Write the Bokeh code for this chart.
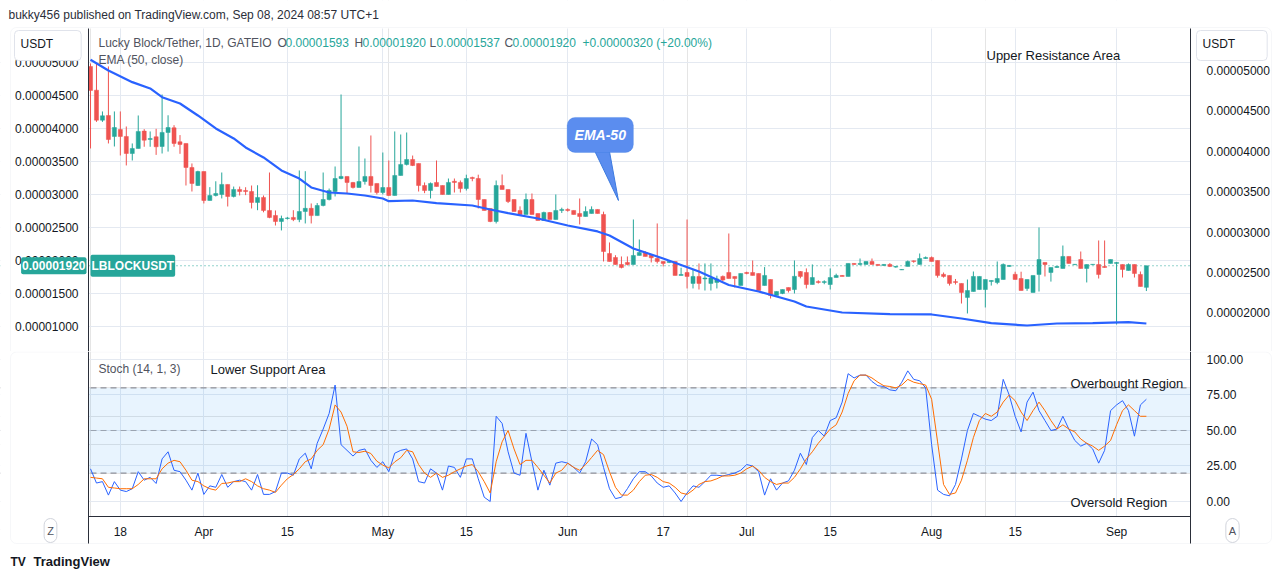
import numpy as np
from bokeh.plotting import figure
from bokeh.layouts import column
from bokeh.models import (Range1d, LinearAxis, FixedTicker, PrintfTickFormatter, Grid, Span,
                          BoxAnnotation, Label)
from bokeh.embed import file_html
from bokeh.resources import INLINE

S = 1e-8  # prices below are in units of 0.00000001 USDT

opens = [4939, 4580, 4126, 4197, 3879, 3985, 3879, 3621, 3697, 3960, 3833, 3874, 3727, 3940, 4010, 3798, 3773, 3409, 3136, 3348,
         2909, 2985, 3000, 3152, 2970, 3076, 3060, 3045, 2879, 2955, 2758, 2682, 2591, 2636, 2652, 2620, 2742, 2790, 2680, 2833,
         2924, 3045, 3242, 3273, 3182, 3106, 3197, 3273, 3167, 3030, 3106, 2985, 3288, 3455, 3530, 3470, 3136, 3060, 3182, 3136,
         3000, 3200, 3182, 3090, 3258, 3242, 2924, 2788, 2591, 3136, 3076, 2924, 2758, 2697, 2924, 2712, 2606, 2727, 2621, 2758,
         2773, 2758, 2712, 2667, 2712, 2773, 2697, 2106, 2045, 1939, 1970, 1939, 2076, 2121, 2081, 2030, 1985, 1970, 1985, 1773,
         1818, 1652, 1758, 1720, 1652, 1667, 1758, 1818, 1758, 1621, 1818, 1818, 1803, 1621, 1712, 1470, 1500, 1590, 1560, 1833,
         1818, 1636, 1680, 1667, 1636, 1742, 1773, 1758, 1955, 1940, 1940, 1985, 1940, 1925, 1940, 1900, 1860, 1910, 1995, 1940,
         2030, 2045, 2000, 1790, 1773, 1680, 1652, 1440, 1530, 1560, 1560, 1682, 1667, 1712, 1910, 1790, 1727, 1576, 1515, 1788,
         1970, 1818, 1894, 1879, 2061, 1939, 2015, 1879, 1939, 1939, 1910, 1955, 1955, 1939, 1848, 1939, 1788, 1593]
highs = [4985, 4985, 4258, 4940, 4258, 4258, 4030, 3773, 4197, 3990, 3955, 3995, 4515, 4200, 4050, 3900, 3773, 3470, 3360, 3348,
         3111, 3200, 3333, 3152, 3120, 3120, 3110, 3136, 3140, 2985, 3333, 2758, 2680, 2660, 2762, 3364, 3353, 2864, 2870, 3333,
         3090, 3424, 4515, 3273, 3190, 3727, 3545, 3894, 3167, 3636, 3515, 3955, 3909, 3939, 3590, 3470, 3182, 3182, 3515, 3136,
         3242, 3242, 3212, 3300, 3270, 3300, 2924, 2788, 3212, 3303, 3076, 2924, 2820, 3015, 3015, 2712, 2740, 2735, 3000, 2800,
         2790, 2758, 2939, 2820, 2820, 2773, 2740, 2273, 2080, 2061, 2061, 2621, 2318, 2140, 2081, 2561, 1985, 2000, 1985, 1890,
         2621, 1860, 1955, 1955, 1955, 1770, 1773, 2409, 1758, 1803, 1830, 2000, 1803, 1900, 1712, 1530, 1560, 1590, 2000, 1840,
         1880, 1940, 1700, 1700, 1880, 1800, 1780, 1955, 1960, 2030, 1985, 2030, 1945, 1945, 1960, 1915, 1870, 2000, 2000, 2106,
         2061, 2061, 2000, 1818, 1773, 1720, 1652, 1712, 1833, 1758, 1712, 1700, 1985, 1955, 1930, 1830, 1830, 1712, 1773, 2500,
         1970, 1894, 1915, 2227, 2061, 1945, 2136, 1939, 1945, 2303, 2303, 2015, 1975, 1939, 1955, 1939, 1833, 1920]
lows = [3697, 4100, 4100, 3773, 3727, 3591, 3440, 3515, 3697, 3723, 3723, 3600, 3621, 3650, 3723, 3616, 3136, 3045, 3130, 2864,
        2909, 2970, 2940, 2818, 2955, 2985, 2990, 2788, 2762, 2730, 2640, 2530, 2455, 2620, 2596, 2580, 2561, 2561, 2680, 2820,
        2910, 2970, 3230, 3015, 3090, 3106, 3150, 3030, 3000, 3000, 2980, 2985, 3288, 3440, 3430, 3045, 3020, 2940, 3121, 3000,
        3000, 3030, 3030, 3060, 3200, 2788, 2758, 2580, 2561, 3076, 2870, 2742, 2697, 2697, 2697, 2606, 2606, 2621, 2621, 2720,
        2740, 2697, 2546, 2667, 2712, 2712, 1985, 1985, 1939, 1880, 1925, 1939, 2076, 2061, 1970, 1955, 1910, 1960, 1773, 1773,
        1576, 1576, 1560, 1545, 1545, 1576, 1690, 1727, 1590, 1621, 1790, 1773, 1545, 1621, 1424, 1470, 1490, 1515, 1500, 1730,
        1576, 1636, 1650, 1640, 1560, 1742, 1760, 1758, 1935, 1925, 1940, 1940, 1920, 1915, 1900, 1890, 1855, 1910, 1965, 1940,
        2025, 1985, 1740, 1740, 1620, 1636, 1348, 1197, 1530, 1560, 1288, 1620, 1640, 1712, 1905, 1712, 1545, 1540, 1515, 1530,
        1758, 1680, 1890, 1879, 1955, 1935, 1879, 1667, 1935, 1727, 1890, 1955, 1030, 1742, 1848, 1742, 1606, 1537]
closes = [4576, 4126, 4192, 3833, 4015, 3879, 3621, 3697, 3955, 3823, 3848, 3723, 3940, 4015, 3773, 3758, 3409, 3167, 3348, 2909,
          2985, 3015, 3152, 2970, 3076, 3045, 3045, 2879, 2955, 2758, 2652, 2591, 2636, 2645, 2620, 2742, 2790, 2680, 2833, 2924,
          3060, 3242, 3273, 3182, 3106, 3197, 3273, 3136, 3030, 3106, 2985, 3288, 3455, 3530, 3439, 3136, 3060, 3167, 3121, 3000,
          3182, 3182, 3090, 3242, 3242, 2924, 2758, 2591, 3136, 3076, 2894, 2742, 2697, 2924, 2697, 2606, 2727, 2621, 2758, 2773,
          2758, 2697, 2667, 2742, 2773, 2712, 2136, 1985, 1939, 1894, 1939, 2076, 2121, 2061, 2041, 1985, 1955, 1985, 1773, 1788,
          1758, 1758, 1652, 1735, 1735, 1720, 1705, 1727, 1727, 1803, 1803, 1773, 1545, 1773, 1470, 1530, 1560, 1545, 1760, 1758,
          1636, 1742, 1667, 1680, 1742, 1773, 1758, 1955, 1940, 1955, 1985, 1940, 1925, 1940, 1910, 1910, 1864, 1985, 1985, 2030,
          2045, 1985, 1773, 1758, 1652, 1667, 1515, 1545, 1758, 1758, 1712, 1697, 1727, 1940, 1925, 1712, 1545, 1712, 1773, 2015,
          1939, 1894, 1910, 2061, 1955, 1942, 1879, 1939, 1942, 1788, 1894, 2015, 1970, 1864, 1939, 1803, 1606, 1920]

# EMA(50): (bar index, value)
ema_days = [0, 3, 7, 10, 12, 15, 18, 21, 24, 26, 29, 32, 35, 37, 40, 43, 46, 49, 50, 54, 58, 64, 67, 70, 75, 80, 85, 87,
            91, 96, 102, 107, 112, 118, 120, 126, 134, 141, 146, 151, 157, 162, 168, 174, 177]
ema_vals = [5041, 4879, 4702, 4606, 4474, 4379, 4197, 4000, 3849, 3712, 3561, 3364, 3242, 3106, 3030, 3015, 2985, 2939, 2899,
            2909, 2868, 2833, 2773, 2717, 2636, 2530, 2440, 2379, 2182, 2030, 1833, 1629, 1530, 1379, 1303, 1212, 1187, 1182,
            1121, 1050, 1015, 1045, 1050, 1065, 1045]

stoch_k = [23, 13, 14, 4.5, 14, 8, 7, 9, 21, 15, 17, 12.7, 30, 35, 22, 21, 15, 8, 20, 5, 11, 10, 19, 10, 14, 15,
           14, 8, 19, 5, 5, 7, 20, 20, 18.5, 30, 34, 23, 41, 51, 62, 82, 40, 36, 32, 36, 37, 29, 24, 28, 21, 34, 36,
           37, 30, 14, 13, 23, 20, 8, 25, 24, 17, 30, 30, 16, 3, 0, 60, 55, 35, 20, 18.5, 48, 28, 8, 22, 11.5, 27, 28,
           27, 24, 20, 28, 44, 40, 24, 9, 2, 3, 9, 16, 21, 21, 18, 13, 10, 11, 6, 0, 6, 11, 10, 14, 18.5, 18.5, 18,
           19, 20, 22, 26, 25, 21, 4.5, 16, 8, 13, 14.5, 22, 34, 26, 45, 50, 46, 57, 59, 70, 90, 87, 89, 89, 84.5, 81.5, 81, 78.6,
           78, 84, 92, 86, 85, 80, 40, 8, 5, 4, 12, 30, 50, 62, 60, 58, 57, 60, 86, 75, 60, 49, 70, 77, 64, 57,
           50, 51, 60, 51, 43, 39, 41, 37, 27, 36, 64, 68, 71, 64, 46, 68, 72]
stoch_d = [17, 16.5, 16, 10, 9.5, 9, 9, 9, 12, 16, 16, 16, 23, 27, 29, 28, 22, 15, 14, 11, 9, 8, 12.7, 13, 14, 14,
           16, 14, 11, 9, 8, 6.4, 11.5, 16, 19, 23, 28, 30, 36, 40, 51, 68, 63, 53, 35, 34.5, 35.4, 33.8, 28.4, 25.6, 23.7, 27.9, 30.8,
           36, 35, 26, 20, 17, 20, 17, 18.5, 21, 23, 25, 26, 21, 14, 6, 28, 42, 50, 37, 26, 29, 29, 24, 18.5, 13, 20, 22,
           27, 24, 22, 26, 31, 36, 33, 21, 10, 4.5, 4.5, 8, 14, 18.5, 19, 17, 14, 13, 10, 6, 5, 8, 12, 14, 14.5, 16, 18,
           18, 18.5, 20, 23, 25, 22, 17, 14, 12, 13, 13, 17, 23, 30, 35, 41, 46, 51, 54, 63, 76, 85, 89, 89, 87, 84, 81.5, 81,
           80, 82, 86, 84, 83, 82, 72, 42, 12, 5, 6, 15, 29, 45, 57, 62, 60, 63, 70, 75, 71, 63, 57, 64, 70, 64,
           57, 51, 54, 51, 49, 44, 41, 39, 36, 39, 43, 54, 64, 68, 64, 60, 60]

# time axis (bar index -> label); bar 0 = Mar 13, 2024
tick_days = [5, 19, 33, 49, 63, 80, 96, 110, 124, 141, 155, 172]
tick_labels = ["18", "Apr", "15", "May", "15", "Jun", "17", "Jul", "15", "Aug", "15", "Sep"]

left_ticks = [1000, 1500, 2000, 2500, 3000, 3500, 4000, 4500, 5000]
right_ticks = [2000, 2500, 3000, 3500, 4000, 4500, 5000]
stoch_ticks = [0, 25, 50, 75, 100]
last_price = 1920

UP, DOWN = "#26a69a", "#ef5350"
GRID = "#e4e9f1"
TXT = "#131722"
GRAYT = "#50535e"
BORDER = "#e0e3eb"
AXLINE = "#2a2e39"
FONT = "Liberation Sans"

# plot-area extents in data units (price panel / stoch panel)
X0, X1 = -0.34, 184.4
P0, P1 = 621, 5515
ST0, ST1 = -10.56, 105.63

days = np.arange(len(opens))
o = np.array(opens) * S
h = np.array(highs) * S
l = np.array(lows) * S
c = np.array(closes) * S
col = [UP if cc >= oo else DOWN for oo, cc in zip(opens, closes)]
body_top = np.maximum(o, c)
body_bot = np.minimum(o, c)
body_bot = np.where(body_top - body_bot < 6 * S, body_top - 6 * S, body_bot)

xr = Range1d(-15.09, 198.31)
W = 1273


def style_axis(ax, standoff):
    ax.major_tick_line_color = None
    ax.minor_tick_line_color = None
    ax.axis_line_color = AXLINE
    ax.major_label_text_font = FONT
    ax.major_label_text_font_size = "12px"
    ax.major_label_text_color = TXT
    ax.major_label_standoff = standoff


def lab(p, x, y, text, color=TXT, size="12px", style="normal", align="left", **kw):
    p.add_layout(Label(x=x, y=y, x_units="screen", y_units="screen", text=text, text_color=color,
                       text_font=FONT, text_font_size=size, text_font_style=style, text_align=align,
                       text_baseline="middle", **kw))


def base_fig(height, yrange):
    p = figure(width=W, height=height, x_range=xr, y_range=yrange, output_backend="svg", toolbar_location=None,
               x_axis_location=None, y_axis_location=None, min_border=0, min_border_left=0, min_border_right=0,
               min_border_top=0, min_border_bottom=0, background_fill_color="white", border_fill_color="white",
               outline_line_color=None)
    return p


def white_cover(p, top_limit=None, bottom_limit=None):
    kw = dict(fill_color="white", fill_alpha=1, line_color=None, level="underlay")
    p.add_layout(BoxAnnotation(right=X0, **kw))
    p.add_layout(BoxAnnotation(left=X1, **kw))
    if top_limit is not None:
        p.add_layout(BoxAnnotation(bottom=top_limit, **kw))
    if bottom_limit is not None:
        p.add_layout(BoxAnnotation(top=bottom_limit, **kw))


# ---------------- price panel (page y 0..351) ----------------
A_H = 351
pA = base_fig(A_H, Range1d(P0 * S, 5939 * S))
pA.extra_y_ranges = {"r": Range1d(1522 * S, 5866.6 * S)}

pA.add_layout(Grid(dimension=1, ticker=FixedTicker(ticks=[v * S for v in left_ticks]), grid_line_color=GRID))
pA.add_layout(Grid(dimension=0, ticker=FixedTicker(ticks=tick_days), grid_line_color=GRID))
pA.add_layout(Span(location=last_price * S, dimension="width", line_color=UP, line_dash="1 3", line_width=1,
                   level="underlay"))
white_cover(pA, top_limit=P1 * S)
pA.add_layout(BoxAnnotation(left=10, right=1271, top=A_H - 27, bottom=-20, left_units="screen", right_units="screen",
                            top_units="screen", bottom_units="screen", fill_color=None, line_color=BORDER,
                            border_radius=6, level="underlay"))

yl = LinearAxis(ticker=FixedTicker(ticks=[v * S for v in left_ticks]), formatter=PrintfTickFormatter(format="%.8f"),
                fixed_location=X0, bounds=(P0 * S, P1 * S))
style_axis(yl, 4)
pA.add_layout(yl, "left")
yr = LinearAxis(y_range_name="r", ticker=FixedTicker(ticks=[v * S for v in right_ticks]),
                formatter=PrintfTickFormatter(format="%.8f"), fixed_location=X1, bounds=(1522 * S, 5520 * S))
style_axis(yr, 10)
pA.add_layout(yr, "right")

pA.segment(days, h, days, l, color=col, line_width=1)
pA.vbar(x=days, width=0.68, top=body_top, bottom=body_bot, fill_color=col, line_color=col, line_width=0.5)
pA.line(ema_days, np.array(ema_vals) * S, line_color="#2962ff", line_width=2.2)

# EMA-50 callout
pA.patch([84.3, 86.9, 88.5], [3700 * S, 3700 * S, 2909 * S], fill_color="#5b8def", line_color="#3d7be0", line_width=1)
pA.add_layout(BoxAnnotation(left=79.9, right=91.0, bottom=3636 * S, top=4167 * S, fill_color="#5b8def", fill_alpha=1,
                            line_color="#3d7be0", border_radius=8))
pA.add_layout(Label(x=85.45, y=3900 * S, text="EMA-50", text_color="white", text_font=FONT, text_font_size="14px",
                    text_font_style="bold italic", text_align="center", text_baseline="middle"))

# header and legend
lab(pA, 8, A_H - 14, "bukky456 published on TradingView.com, Sep 08, 2024 08:57 UTC+1", color="#2a2e39")
parts = [(98, "Lucky Block/Tether, 1D, GATEIO", GRAYT), (277, "O", GRAYT), (285, "0.00001593", UP),
         (354, "H", GRAYT), (362, "0.00001920", UP), (429, "L", GRAYT), (436, "0.00001537", UP),
         (504, "C", GRAYT), (512, "0.00001920", UP), (582, "+0.00000320 (+20.00%)", UP)]
for px, t, cl in parts:
    lab(pA, px, A_H - 42, t, color=cl)
lab(pA, 98, A_H - 59, "EMA (50, close)", color=GRAYT)
lab(pA, 986, A_H - 55, "Upper Resistance Area", size="13px")
# USDT boxes
lab(pA, 14, A_H - 45, "USDT", border_line_color=BORDER, background_fill_color="white",
    border_radius=4, padding=(6, 28, 6, 10))
lab(pA, 1196, A_H - 45, "USDT", border_line_color=BORDER, background_fill_color="white",
    border_radius=4, padding=(6, 32, 6, 10))
# last price tags
pA.add_layout(Label(x=86, y=last_price * S, x_units="screen", y_units="data", text="0.00001920", text_color="white",
                    text_font=FONT, text_font_size="12px", text_font_style="bold", text_align="right",
                    text_baseline="middle", background_fill_color=UP, padding=(1, 4), border_radius=2))
pA.add_layout(Label(x=90, y=last_price * S, x_units="screen", y_units="data", text="LBLOCKUSDT", text_color="white",
                    text_font=FONT, text_font_size="12px", text_font_style="bold", text_align="left",
                    text_baseline="middle", background_fill_color=UP, padding=(1, 4), border_radius=2))

# ---------------- stochastic panel (page y 351..571) ----------------
B_H = 220
pB = base_fig(B_H, Range1d(-49.3, ST1))
pB.add_layout(Grid(dimension=1, ticker=FixedTicker(ticks=stoch_ticks), grid_line_color=GRID))
pB.add_layout(Grid(dimension=0, ticker=FixedTicker(ticks=tick_days), grid_line_color=GRID))
pB.add_layout(BoxAnnotation(bottom=20, top=80, left=X0, right=X1, fill_color="#2196f3", fill_alpha=0.1,
                            line_color=None, level="underlay"))
pB.add_layout(Span(location=80, dimension="width", line_color="#787b86", line_dash="6 4", line_width=1, level="underlay"))
pB.add_layout(Span(location=50, dimension="width", line_color="#787b86", line_alpha=0.6, line_dash="6 4", line_width=1,
                   level="underlay"))
pB.add_layout(Span(location=20, dimension="width", line_color="#787b86", line_dash="6 4", line_width=1, level="underlay"))
white_cover(pB, bottom_limit=ST0)
pB.add_layout(BoxAnnotation(left=10, right=1271, top=B_H - 0.5, bottom=571 - 543, left_units="screen",
                            right_units="screen", top_units="screen", bottom_units="screen", fill_color=None,
                            line_color=BORDER, border_radius=6, level="underlay"))

xa = LinearAxis(ticker=FixedTicker(ticks=tick_days), fixed_location=ST0, bounds=(X0, X1),
                major_label_overrides={d: t for d, t in zip(tick_days, tick_labels)})
style_axis(xa, 3)
pB.add_layout(xa, "below")
ybl = LinearAxis(ticker=FixedTicker(ticks=[]), fixed_location=X0, bounds=(-29.6, ST1))
style_axis(ybl, 0)
pB.add_layout(ybl, "left")
ybr = LinearAxis(ticker=FixedTicker(ticks=stoch_ticks), formatter=PrintfTickFormatter(format="%.2f"),
                 fixed_location=X1, bounds=(-29.6, ST1))
style_axis(ybr, 10)
pB.add_layout(ybr, "right")

pB.line(days, stoch_k, line_color="#2962ff", line_width=1)
pB.line(days, stoch_d, line_color="#ff6d00", line_width=1)

lab(pB, 98, B_H + 351 - 368, "Stoch (14, 1, 3)", color=GRAYT)
lab(pB, 210, B_H + 351 - 369, "Lower Support Area", size="13px")
lab(pB, 1070, B_H + 351 - 383, "Overbought Region", size="13px")
lab(pB, 1070, B_H + 351 - 502, "Oversold Region", size="13px")
lab(pB, 50, B_H + 351 - 530, "Z", color=GRAYT, size="11px", align="center", border_line_color="#d1d4dc",
    border_radius=9, padding=(3, 6))
lab(pB, 1232, B_H + 351 - 530, "A", color=GRAYT, size="11px", align="center", border_line_color="#d1d4dc",
    border_radius=9, padding=(3, 6))
lab(pB, 10, B_H + 351 - 561, "TV", size="12px", style="bold")
lab(pB, 33, B_H + 351 - 561, "TradingView", size="13px", style="bold", color=TXT)

layout = column(pA, pB, spacing=0)
open("out.html", "w").write(file_html(layout, INLINE))
